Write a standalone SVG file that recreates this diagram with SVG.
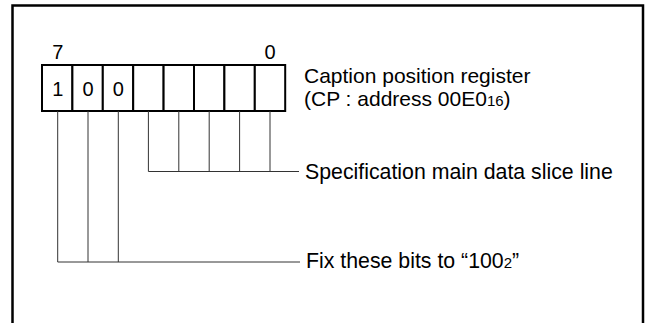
<svg xmlns="http://www.w3.org/2000/svg" width="647" height="323" viewBox="0 0 647 323">
<style>
text{font-family:"Liberation Sans",Arial,sans-serif;fill:#000}
.t{font-size:21.3px}
.c{font-size:21px}
.n{font-size:20px}
.sub{font-size:15px}
.box{fill:#fff;stroke:#000;stroke-width:2}
.ld{fill:none;stroke:#333;stroke-width:1}
</style>
<rect x="12.5" y="5.5" width="630.5" height="330" fill="#fff" stroke="#000" stroke-width="2.5"/>
<g id="register">
<text class="n" x="57.7" y="59" text-anchor="middle">7</text>
<text class="n" x="270" y="59" text-anchor="middle">0</text>
<rect class="box" x="42" y="65" width="30.4" height="46"/>
<rect class="box" x="72.4" y="65" width="30.4" height="46"/>
<rect class="box" x="102.8" y="65" width="30.4" height="46"/>
<rect class="box" x="133.2" y="65" width="30.4" height="46"/>
<rect class="box" x="163.6" y="65" width="30.4" height="46"/>
<rect class="box" x="194" y="65" width="30.4" height="46"/>
<rect class="box" x="224.4" y="65" width="30.4" height="46"/>
<rect class="box" x="254.8" y="65" width="30.4" height="46"/>
<text class="n" x="57.7" y="96" text-anchor="middle">1</text>
<text class="n" x="88" y="96" text-anchor="middle">0</text>
<text class="n" x="118.3" y="96" text-anchor="middle">0</text>
</g>
<g id="connectors">
<path class="ld" d="M57.7 111V262M88 111V262M118.3 111V262M57.7 262H300"/>
<path class="ld" d="M148.4 111V171.5M178.8 111V171.5M209.2 111V171.5M239.6 111V171.5M270 111V171.5M148.4 171.5H299"/>
</g>
<g id="label-caption">
<text class="c" x="304" y="82.5">Caption position register</text>
<text class="c" x="304" y="105.5">(CP : address 00E0<tspan class="sub">16</tspan>)</text>
</g>
<g id="label-spec">
<text class="t" x="305" y="179">Specification main data slice line</text>
</g>
<g id="label-fix">
<text class="t" x="306" y="268">Fix these bits to “100<tspan class="sub">2</tspan>”</text>
</g>
</svg>
